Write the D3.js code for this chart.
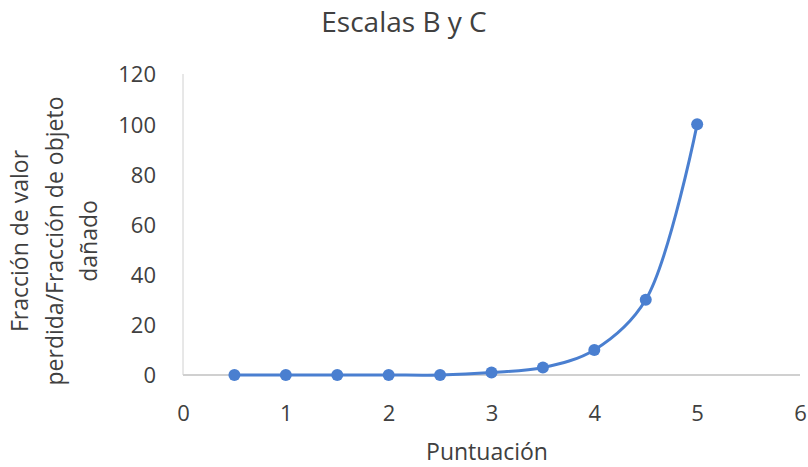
<!DOCTYPE html>
<html>
<head>
<meta charset="utf-8">
<script src="https://cdn.jsdelivr.net/npm/d3@7"></script>
<style>
  body { margin: 0; background: #fff; }
  text { font-family: "Open Sans", "Noto Sans", sans-serif; fill: #404040; }
</style>
</head>
<body>
<svg id="chart" width="808" height="467"></svg>
<script>
// Puntuación vs. fracción de valor perdida
const scores = [0.5, 1, 1.5, 2, 2.5, 3, 3.5, 4, 4.5, 5];
const losses = [0, 0, 0, 0, 0, 1, 3, 10, 30, 100];
const xTicks = [0, 1, 2, 3, 4, 5, 6];
const yTicks = [0, 20, 40, 60, 80, 100, 120];
const titleText = "Escalas B y C";
const xTitle = "Puntuación";
const yTitleLines = ["Fracción de valor", "perdida/Fracción de objeto", "dañado"];

const svg = d3.select("#chart");
const color = "#4a7fd0";
const font = '"Open Sans", sans-serif';

const x = d3.scaleLinear().domain([0, 6]).range([183, 800]);
const y = d3.scaleLinear().domain([0, 120]).range([375, 74]);

// Axis lines
svg.append("line")
  .attr("x1", x(0)).attr("x2", x(0))
  .attr("y1", y(120)).attr("y2", y(0))
  .attr("stroke", "#d0d0d0").attr("stroke-width", 1);
svg.append("line")
  .attr("x1", x(0)).attr("x2", x(6))
  .attr("y1", y(0)).attr("y2", y(0))
  .attr("stroke", "#d0d0d0").attr("stroke-width", 2);

// Tick labels
const xAxis = d3.axisBottom(x).tickValues(xTicks).tickFormat(d3.format("d"))
  .tickSize(0).tickPadding(0);
const gx = svg.append("g").attr("transform", `translate(0,${y(0) + 46})`).call(xAxis);
gx.select(".domain").remove();
gx.selectAll("text").attr("font-size", 22).attr("dy", 0)
  .style("font-family", font).attr("fill", "#404040");

const yAxis = d3.axisLeft(y).tickValues(yTicks).tickFormat(d3.format("d"))
  .tickSize(0).tickPadding(0);
const gy = svg.append("g").attr("transform", `translate(${x(0) - 27},0)`).call(yAxis);
gy.select(".domain").remove();
gy.selectAll("text").attr("font-size", 22).attr("dy", "0.36em")
  .style("font-family", font).attr("fill", "#404040");

// Series line
const pts = scores.map((s, i) => [s, losses[i]]);
const line = d3.line()
  .x(d => x(d[0])).y(d => y(d[1]))
  .curve(d3.curveCatmullRom.alpha(0.5));
svg.append("path")
  .datum(pts)
  .attr("d", line)
  .attr("fill", "none")
  .attr("stroke", color)
  .attr("stroke-width", 3);

svg.selectAll("circle.pt")
  .data(pts).enter().append("circle")
  .attr("class", "pt")
  .attr("cx", d => x(d[0])).attr("cy", d => y(d[1]))
  .attr("r", 6)
  .attr("fill", color);

// Titles
svg.append("text")
  .attr("x", 404).attr("y", 32)
  .attr("text-anchor", "middle")
  .attr("font-size", 28)
  .text(titleText);

svg.append("text")
  .attr("x", 487).attr("y", 460)
  .attr("text-anchor", "middle")
  .attr("font-size", 23)
  .text(xTitle);

const yt = svg.append("text")
  .attr("transform", "translate(0,241) rotate(-90)")
  .attr("text-anchor", "middle")
  .attr("font-size", 23);
yTitleLines.forEach((t, i) => {
  yt.append("tspan").attr("x", 0).attr("y", 28 + i * 34.5).text(t);
});
</script>
</body>
</html>
